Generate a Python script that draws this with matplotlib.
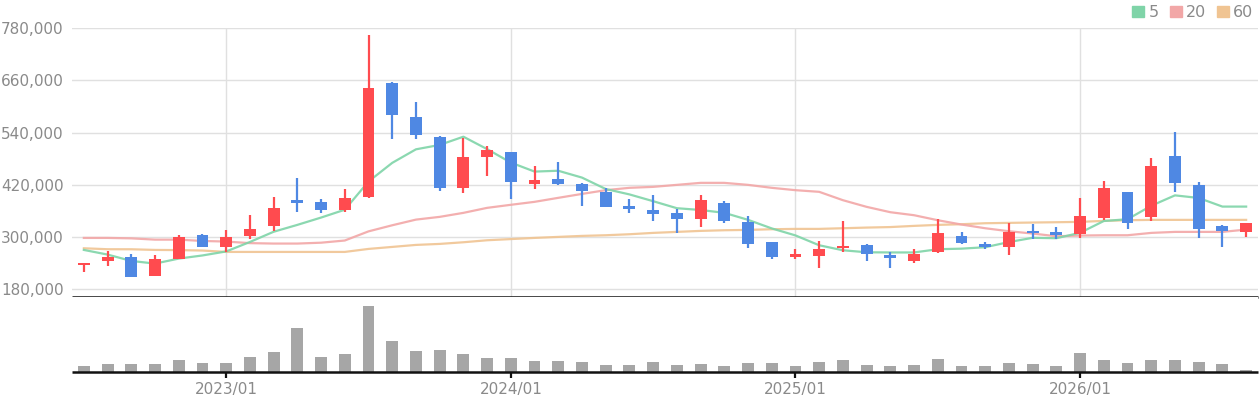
import matplotlib
matplotlib.use('Agg')
import matplotlib.pyplot as plt
from matplotlib.patches import Patch
import numpy as np

months = ['2022/07', '2022/08', '2022/09', '2022/10', '2022/11', '2022/12',
          '2023/01', '2023/02', '2023/03', '2023/04', '2023/05', '2023/06',
          '2023/07', '2023/08', '2023/09', '2023/10', '2023/11', '2023/12',
          '2024/01', '2024/02', '2024/03', '2024/04', '2024/05', '2024/06',
          '2024/07', '2024/08', '2024/09', '2024/10', '2024/11', '2024/12',
          '2025/01', '2025/02', '2025/03', '2025/04', '2025/05', '2025/06',
          '2025/07', '2025/08', '2025/09', '2025/10', '2025/11', '2025/12',
          '2026/01', '2026/02', '2026/03', '2026/04', '2026/05', '2026/06',
          '2026/07', '2026/08']

opens = [235900, 245100, 253600, 211300, 249000, 304100, 277300, 302600, 325600, 384600,
         380000, 361600, 391500, 653600, 575500, 529400, 412200, 483400, 494900, 421400,
         432900, 421400, 403000, 370800, 361600, 354700, 340900, 377700, 334000, 288000,
         253600, 255900, 274200, 281100, 258200, 245100, 265100, 301800, 283500, 276600,
         313300, 311000, 306400, 343200, 403000, 345500, 485700, 419100, 324800, 311000]
highs = [241300, 267300, 260400, 258200, 304100, 306400, 315600, 350100, 391500, 435200,
         386900, 409900, 763900, 655900, 609900, 531700, 527100, 508700, 494900, 462800,
         471900, 423700, 412200, 386900, 396100, 363900, 396100, 382300, 347800, 288000,
         271900, 290300, 336300, 283400, 265000, 272000, 340900, 311000, 288100, 331700,
         329400, 322500, 389200, 428300, 403000, 481300, 540900, 426000, 327100, 331700]
lows = [219800, 232900, 209000, 211300, 249000, 277300, 265800, 295700, 314100, 357000,
        355500, 357000, 389200, 524900, 524900, 405300, 400700, 439800, 386900, 410800,
        419100, 370800, 368500, 354700, 336300, 308700, 322500, 331700, 274200, 249000,
        249000, 228300, 265000, 244400, 228300, 240500, 262800, 283500, 272000, 258200,
        295000, 295000, 297300, 338600, 317900, 336300, 403000, 297300, 276600, 299600]
closes = [241300, 253600, 209000, 249000, 299500, 277300, 299500, 317900, 366200, 378500,
          361600, 389200, 642100, 580100, 534100, 412200, 483400, 499500, 426000, 430600,
          421400, 405300, 368500, 363900, 352400, 340900, 384600, 336300, 283400, 253600,
          260400, 271900, 278800, 260400, 251300, 260500, 308700, 285800, 276600, 311000,
          308700, 304100, 347800, 412200, 331700, 463000, 423700, 317900, 313300, 331700]
volumes = [16, 22, 22, 22, 34, 25, 25, 43, 58, 130, 43, 52, 196, 91, 61, 64, 52, 40, 40, 31,
           31, 28, 19, 19, 28, 19, 22, 16, 25, 25, 16, 28, 34, 19, 16, 19, 37, 16, 16, 25,
           22, 16, 55, 34, 25, 34, 34, 28, 22, 4]

ma5 = [270400, 259700, 245100, 239000, 250500, 257700, 266900, 288600, 312100, 327900,
       344700, 362700, 427500, 470300, 501400, 511500, 530400, 501900, 471000, 450300,
       452200, 436500, 410300, 397900, 382300, 366200, 362100, 355600, 339500, 319800,
       303700, 281100, 269600, 265000, 264600, 264600, 272000, 273300, 276600, 288500,
       298200, 297300, 309700, 336800, 340900, 371800, 395700, 389700, 369900, 369900]
ma20 = [298000, 298000, 297000, 294000, 294000, 291000, 289600, 286000, 285000, 285000,
        287000, 292000, 313000, 327000, 340000, 346300, 355500, 367000, 374000, 380800,
        390000, 399000, 407600, 413000, 415200, 419800, 424400, 424400, 419800, 413000,
        407600, 403800, 384600, 369300, 357000, 350100, 338600, 328700, 320200, 313300,
        308000, 301800, 303400, 304100, 304100, 309500, 311800, 311800, 311800, 317100]
ma60 = [274200, 272000, 271900, 270400, 270000, 269000, 265800, 265800, 265800, 265800,
        265800, 265800, 272700, 277300, 281900, 284200, 288000, 292600, 295300, 298000,
        300300, 302600, 304100, 306400, 309500, 311800, 314100, 315600, 316400, 317900,
        318700, 318700, 320200, 321700, 322900, 325600, 327900, 329400, 331700, 332500,
        333300, 334000, 334800, 337100, 338600, 339400, 339400, 339400, 339400, 339400]

price_ticks = [180000, 300000, 420000, 540000, 660000, 780000]
year_ticks = ['2023/01', '2024/01', '2025/01', '2026/01']

UP = '#ff4b4f'
DOWN = '#4f88e3'
GRID = '#e0e0e0'
LABEL = '#8a8a8a'

x = np.arange(len(months))
o = np.array(opens)
c = np.array(closes)
up = c >= o
colors = np.where(up, UP, DOWN)

fig = plt.figure(figsize=(12.6, 4.0), dpi=100)
ax = fig.add_axes([72 / 1260, 1 - 297 / 400, 1186 / 1260, 269 / 400])
vax = fig.add_axes([72 / 1260, 1 - 371.5 / 400, 1186 / 1260, 74.5 / 400])

year_pos = [months.index(m) for m in year_ticks]

# price panel
for yv in price_ticks:
    ax.axhline(yv, color=GRID, lw=1, zorder=0)
for xp in year_pos:
    ax.axvline(xp, color=GRID, lw=1, zorder=0)

ax.plot(x, ma60, color='#f0c492', lw=1.6, alpha=0.9, zorder=1)
ax.plot(x, ma20, color='#f2a7a7', lw=1.6, alpha=0.9, zorder=1)
ax.plot(x, ma5, color='#7fd4a8', lw=1.6, alpha=0.9, zorder=1)

ax.vlines(x, lows, highs, colors=colors, lw=1.6, zorder=2)
body_low = np.minimum(o, c)
body_h = np.maximum(np.abs(c - o), 2500)
ax.bar(x, body_h, bottom=body_low, width=0.5, color=colors, zorder=3)

ax.set_xlim(-0.5, len(months) - 0.5)
ax.set_ylim(162300, 780000)
ax.set_yticks(price_ticks)
ax.set_yticklabels([f'{v:,}' for v in price_ticks])
ax.set_xticks([])
ax.tick_params(axis='y', length=0, pad=6, labelsize=11, labelcolor=LABEL)
for s in ['top', 'left', 'right']:
    ax.spines[s].set_visible(False)
ax.spines['bottom'].set_color('#111111')
ax.spines['bottom'].set_linewidth(1.8)
ax.spines['bottom'].set_capstyle('butt')

# volume panel
vax.bar(x, volumes, width=0.5, color='#a6a6a6')
vax.set_xlim(-0.5, len(months) - 0.5)
vax.set_ylim(0, 224)
vax.set_yticks([])
vax.set_xticks(year_pos)
vax.set_xticklabels(year_ticks)
vax.tick_params(axis='x', length=4.5, width=1.6, color='#111111', labelsize=11,
                labelcolor=LABEL, pad=3)
for s in ['top', 'left', 'right']:
    vax.spines[s].set_visible(False)
vax.spines['bottom'].set_color('#111111')
vax.spines['bottom'].set_linewidth(1.8)
vax.spines['bottom'].set_capstyle('butt')

handles = [Patch(color='#7fd4a8', label='5'),
           Patch(color='#f2a7a7', label='20'),
           Patch(color='#f0c492', label='60')]
leg = fig.legend(handles=handles, loc='upper right', bbox_to_anchor=(1.001, 1.007),
                 ncol=3, frameon=False, fontsize=11.5, handlelength=0.75, handleheight=0.75,
                 handletextpad=0.25, columnspacing=0.7, borderaxespad=0.1)
for t in leg.get_texts():
    t.set_color(LABEL)

fig.savefig('out.png', dpi=100)
